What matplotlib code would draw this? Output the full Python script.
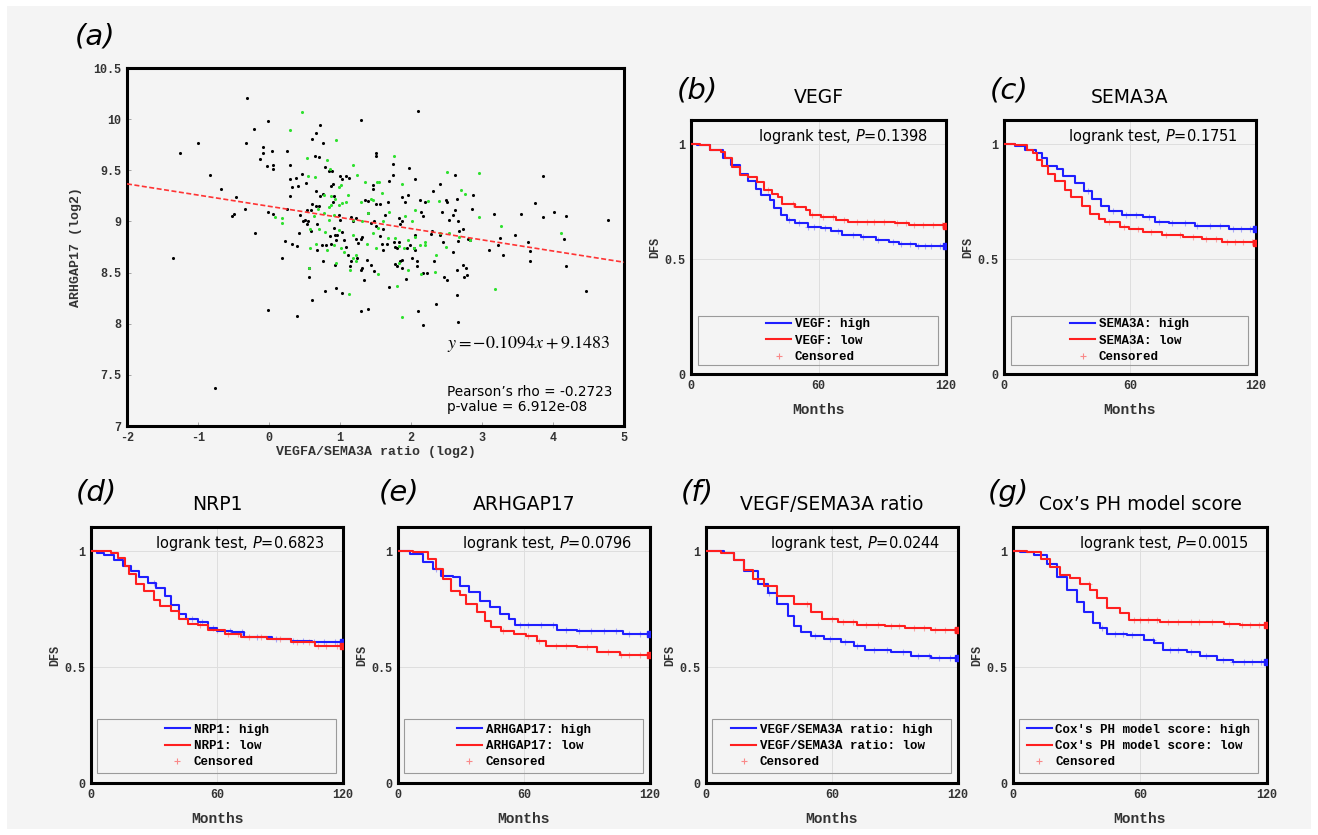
import numpy as np
import matplotlib.pyplot as plt
from matplotlib.patches import Rectangle
from matplotlib.lines import Line2D

# ---------------- panel (a): scatter data
black_x = [-0.31, -1.26, -1.0, -1.35, -0.83, -0.67, -0.76, -0.47, -0.52, -0.50, -0.34, -0.20, -0.21, -0.32,
           -0.01, -0.085, -0.085, -0.13, -0.03, 0.05, 0.05, 0.04, -0.02, 0.06, -0.01, 0.18, 0.23, 0.33, 0.40,
           0.26, 0.30, 0.29, 0.38, 0.33, 0.41, 0.40, 0.29, 0.26, 0.42, 0.44, 0.48, 0.50, 0.46, 0.52, 0.53, 0.59,
           0.55, 0.53, 0.56, 0.56, 0.61, 0.61, 0.66, 0.65, 0.70, 0.72, 0.76, 0.79, 0.85, 0.89, 0.60, 0.66, 0.71,
           0.66, 0.72, 0.76, 0.59, 0.68, 0.67, 0.75, 0.76, 0.80, 0.79, 0.86, 0.88, 0.92, 0.90, 0.91, 0.88, 0.90,
           0.93, 0.94, 0.96, 0.93, 0.94, 1.0, 1.03, 1.08, 1.13, 1.03, 0.98, 1.0, 1.03, 1.06, 1.08, 1.11, 1.14,
           1.16, 1.16, 1.19, 1.22, 1.23, 1.26, 1.29, 1.31, 1.30, 1.24, 1.30, 1.31, 1.30, 1.39, 1.34, 1.38, 1.43,
           1.48, 1.46, 1.46, 1.50, 1.50, 1.35, 1.39, 1.51, 1.56, 1.40, 1.43, 1.48, 1.51, 1.56, 1.59, 1.61, 1.64,
           1.67, 1.69, 1.75, 1.75, 1.61, 1.66, 1.69, 1.76, 1.78, 1.80, 1.83, 1.88, 1.92, 1.96, 1.97, 2.05, 1.83,
           1.85, 1.88, 1.78, 1.80, 1.85, 1.88, 1.88, 1.93, 1.95, 1.98, 2.04, 2.06, 2.05, 2.01, 2.08, 2.09, 2.17,
           2.23, 2.10, 2.10, 2.17, 2.14, 2.17, 2.20, 2.13, 2.30, 2.28, 2.35, 2.41, 2.31, 2.49, 2.51, 2.43, 2.45,
           2.41, 2.32, 2.46, 2.51, 2.54, 2.59, 2.62, 2.62, 2.65, 2.66, 2.67, 2.73, 2.65, 2.73, 2.78, 2.75, 2.79,
           2.65, 2.66, 2.59, 2.66, 2.87, 2.86, 2.80, 2.83, 3.10, 3.17, 3.23, 3.26, 3.30, 3.55, 3.46, 3.65, 3.67,
           3.67, 3.75, 3.86, 3.86, 4.01, 4.19, 4.16, 4.19, 4.47, 4.77]
black_y = [10.21, 9.67, 9.77, 8.64, 9.45, 9.32, 7.37, 9.24, 9.05, 9.07, 9.12, 8.89, 9.90, 9.77,
           9.98, 9.73, 9.67, 9.61, 9.54, 9.55, 9.51, 9.69, 9.09, 9.07, 8.13, 8.64, 8.81, 8.78, 8.76,
           9.69, 9.55, 9.41, 9.42, 9.34, 9.35, 8.08, 9.25, 9.12, 8.89, 9.06, 9.0, 9.01, 9.46, 9.38, 9.11, 9.11,
           9.0, 8.97, 8.54, 8.46, 8.23, 9.81, 9.86, 9.64, 9.63, 9.94, 9.77, 9.53, 9.49, 9.49, 9.17, 9.15, 9.15,
           9.30, 9.25, 9.27, 8.91, 8.97, 8.72, 8.77, 8.61, 8.77, 8.32, 8.86, 8.78, 8.94, 9.19, 9.25, 9.35, 9.37,
           8.87, 8.82, 8.87, 8.57, 8.35, 9.44, 9.41, 9.44, 9.42, 8.30, 9.06, 9.01, 8.90, 8.82, 8.75, 8.67, 8.56,
           8.61, 9.04, 9.0, 9.03, 8.83, 8.79, 8.83, 8.85, 9.99, 8.64, 8.53, 8.54, 8.12, 8.14, 8.43, 8.62, 8.57,
           8.52, 9.36, 9.32, 9.67, 9.64, 9.21, 9.20, 9.17, 9.17, 9.08, 8.98, 9.0, 8.96, 8.86, 8.78, 8.93, 9.06,
           9.19, 9.40, 9.45, 9.56, 8.72, 8.78, 8.36, 8.80, 8.75, 8.74, 8.80, 9.24, 9.19, 9.26, 9.52, 9.41, 9.03,
           8.97, 9.0, 8.58, 8.56, 8.61, 8.62, 8.54, 8.44, 8.74, 8.77, 8.74, 8.72, 8.87, 8.64, 8.61, 8.56, 8.50,
           8.50, 10.08, 8.12, 7.99, 9.09, 9.05, 9.19, 9.21, 8.91, 8.88, 8.19, 9.37, 9.30, 9.21, 9.19, 9.09, 8.80,
           8.87, 8.61, 8.46, 8.43, 9.01, 9.06, 9.11, 9.45, 9.22, 9.00, 8.91, 8.93, 8.53, 8.57, 8.54, 8.46, 8.48,
           8.28, 8.02, 8.70, 8.81, 9.26, 9.12, 8.83, 8.82, 8.72, 9.07, 8.77, 8.84, 8.67, 9.07, 8.87, 8.80, 8.71,
           8.61, 9.18, 9.04, 9.44, 9.09, 9.05, 8.83, 8.56, 8.32, 9.01]
green_x = [0.46, 0.30, 0.94, 0.53, 0.82, 1.19, 1.76, 0.86, 0.55, 0.65, 1.24, 1.35, 1.52, 1.55, 1.88, 0.98,
           1.01, 0.77, 0.87, 1.11, 1.59, 2.51, 2.96, 2.71, 2.76, 0.93, 0.98, 1.03, 1.08, 1.46, 1.43, 1.30, 0.87,
           0.85, 2.06, 2.24, 2.40, 0.69, 0.63, 0.77, 0.85, 0.92, 1.18, 1.31, 1.40, 1.61, 1.69, 1.92, 2.02, 2.96,
           0.09, 0.19, 0.18, 0.58, 0.71, 0.79, 0.98, 1.19, 1.46, 1.53, 1.68, 1.77, 1.96, 2.06, 2.20, 2.41, 2.54,
           2.67, 2.83, 3.27, 4.11, 0.58, 0.66, 0.82, 0.92, 1.01, 1.06, 1.19, 1.23, 1.38, 1.51, 1.83, 1.90, 2.04,
           2.12, 2.20, 2.35, 2.49, 0.56, 1.14, 1.22, 1.53, 1.83, 1.96, 2.14, 2.34, 0.94, 1.13, 1.80, 1.87, 3.18]
green_y = [10.07, 9.89, 9.80, 9.62, 9.60, 9.55, 9.64, 9.51, 9.44, 9.43, 9.45, 9.39, 9.39, 9.39, 9.37, 9.34,
           9.36, 9.26, 9.25, 9.26, 9.28, 9.48, 9.47, 9.31, 9.27, 9.22, 9.16, 9.18, 9.19, 9.21, 9.22, 9.19, 9.16,
           9.14, 9.11, 9.20, 9.20, 9.12, 9.05, 9.08, 9.01, 9.06, 9.01, 9.0, 9.08, 9.0, 9.09, 9.05, 9.0, 9.04,
           9.04, 9.03, 8.98, 8.93, 8.93, 8.90, 8.92, 8.87, 8.89, 8.94, 8.84, 8.84, 8.82, 8.85, 8.77, 8.89, 8.89,
           8.85, 8.82, 8.96, 8.89, 8.74, 8.78, 8.72, 8.77, 8.74, 8.70, 8.64, 8.67, 8.78, 8.74, 8.76, 8.74, 8.74,
           8.77, 8.80, 8.67, 8.75, 8.54, 8.53, 8.61, 8.49, 8.59, 8.53, 8.49, 8.51, 8.59, 8.29, 8.37, 8.07, 8.34]
fit_slope = -0.1094
fit_intercept = 9.1483
x_ticks_a = [-2, -1, 0, 1, 2, 3, 4, 5]
y_ticks_a = [7, 7.5, 8, 8.5, 9, 9.5, 10, 10.5]

# ---------------- KM curves (time in months, survival)
b_high_t = [0, 3, 9, 15, 19, 23, 27, 30.5, 33, 37, 39, 42.5, 45, 49, 55, 61, 66, 71, 80, 87, 93, 98, 105.7, 120]
b_high_s = [1, 0.995, 0.974, 0.94, 0.91, 0.87, 0.84, 0.806, 0.78, 0.755, 0.72, 0.69, 0.67, 0.655, 0.64, 0.635,
            0.62, 0.605, 0.598, 0.583, 0.576, 0.566, 0.559, 0.559]
b_low_t = [0, 4, 9, 14, 16, 19.5, 23, 27, 31, 34.5, 38, 41, 43, 49, 54, 56, 61, 68, 74, 96, 102.6, 120]
b_low_s = [1, 0.995, 0.974, 0.964, 0.94, 0.90, 0.864, 0.856, 0.835, 0.80, 0.785, 0.77, 0.74, 0.727, 0.713, 0.69,
           0.684, 0.67, 0.662, 0.655, 0.648, 0.645]
c_high_t = [0, 5, 10, 15, 18, 20.4, 25, 28, 34, 38, 42, 46, 50, 56, 66, 72, 78.6, 91, 107, 120]
c_high_s = [1, 0.99, 0.976, 0.96, 0.94, 0.904, 0.89, 0.86, 0.83, 0.797, 0.76, 0.73, 0.71, 0.69, 0.685, 0.66,
            0.656, 0.646, 0.632, 0.632]
c_low_t = [0, 5, 11, 14, 15.6, 18, 21, 24.4, 29, 32, 37, 41, 45, 48, 55, 59.5, 66, 75, 85, 94.5, 104, 120]
c_low_s = [1, 0.997, 0.976, 0.96, 0.933, 0.904, 0.868, 0.84, 0.80, 0.77, 0.73, 0.696, 0.675, 0.66, 0.64, 0.63,
           0.617, 0.606, 0.596, 0.586, 0.575, 0.572]
d_high_t = [0, 3, 6.4, 11, 15, 19, 23, 27, 31, 35, 38, 42, 45, 51, 55.6, 60, 67, 73, 86, 95, 105, 120]
d_high_s = [1, 0.993, 0.986, 0.964, 0.936, 0.914, 0.89, 0.864, 0.843, 0.807, 0.77, 0.73, 0.707, 0.693, 0.67,
            0.657, 0.65, 0.63, 0.62, 0.614, 0.607, 0.607]
d_low_t = [0, 9.5, 12.7, 16, 18, 21.5, 25.4, 30, 33, 38, 42, 46, 51, 55.6, 64, 71.5, 84, 95, 106.5, 120]
d_low_s = [1, 0.993, 0.97, 0.936, 0.90, 0.857, 0.83, 0.79, 0.764, 0.743, 0.707, 0.686, 0.68, 0.66, 0.643, 0.63,
           0.62, 0.607, 0.593, 0.59]
e_high_t = [0, 5.6, 12, 16.7, 20.7, 26, 29.4, 34, 39, 43.7, 48.5, 53, 55.6, 66, 75.5, 85, 107, 120]
e_high_s = [1, 0.989, 0.953, 0.924, 0.895, 0.888, 0.852, 0.823, 0.787, 0.759, 0.73, 0.708, 0.682, 0.68, 0.662,
            0.654, 0.644, 0.644]
e_low_t = [0, 7, 14.3, 18.3, 21.5, 25.4, 29.4, 32.6, 37.4, 41.3, 44.5, 49, 55, 61, 66, 70.7, 85, 94.6, 105.7, 120]
e_low_s = [1, 0.996, 0.967, 0.924, 0.88, 0.83, 0.81, 0.773, 0.737, 0.70, 0.672, 0.658, 0.644, 0.636, 0.615,
           0.593, 0.586, 0.567, 0.553, 0.553]
f_high_t = [0, 8.7, 13.5, 18.3, 24.6, 29.4, 34, 39, 42, 45, 50, 56, 64.4, 70.7, 75.5, 88, 97.5, 107, 120]
f_high_s = [1, 0.993, 0.964, 0.914, 0.857, 0.821, 0.771, 0.721, 0.679, 0.65, 0.636, 0.621, 0.61, 0.593, 0.576,
            0.567, 0.55, 0.539, 0.539]
f_low_t = [0, 7, 13.5, 18.3, 22.3, 27.8, 34, 42, 50, 55, 62.8, 72, 85, 94.6, 107, 120]
f_low_s = [1, 0.993, 0.964, 0.921, 0.879, 0.85, 0.807, 0.771, 0.736, 0.707, 0.693, 0.683, 0.679, 0.671, 0.66, 0.66]
g_high_t = [0, 3.5, 9.8, 16, 20.8, 25.5, 30, 33.4, 38, 41, 44.4, 54, 61.7, 66.5, 71, 82, 88.5, 96.4, 104, 120]
g_high_s = [1, 0.997, 0.983, 0.947, 0.89, 0.833, 0.783, 0.74, 0.69, 0.669, 0.644, 0.64, 0.619, 0.604, 0.576,
            0.564, 0.547, 0.53, 0.521, 0.521]
g_low_t = [0, 6.6, 13, 17.6, 22.4, 27, 31.8, 36.5, 39.7, 44.4, 50.7, 54.6, 69.6, 82, 99.5, 107.4, 120]
g_low_s = [1, 0.997, 0.969, 0.933, 0.897, 0.883, 0.861, 0.833, 0.797, 0.754, 0.733, 0.704, 0.697, 0.693, 0.687,
           0.68, 0.68]

# censoring times (months)
b_high_c = [46, 51, 55, 58, 63, 69, 76, 81, 88, 95, 99, 103, 107, 110, 113, 117]
b_low_c = [36, 48, 57, 62, 67, 72, 78, 83, 86, 91, 97, 101, 105, 109, 114, 118]
c_high_c = [40, 52, 58, 63, 69, 74, 80, 86, 92, 98, 103, 109, 113, 117]
c_low_c = [50, 57, 64, 70, 77, 84, 90, 96, 101, 106, 110, 114, 118]
d_high_c = [30, 48, 53, 58, 66, 72, 79, 88, 96, 101, 106, 111, 116]
d_low_c = [52, 60, 65, 70, 75, 81, 90, 98, 104, 108, 112, 117]
e_high_c = [18, 58, 62, 68, 74, 80, 86, 92, 98, 104, 110, 115]
e_low_c = [50, 62, 67, 75, 80, 90, 100, 106, 110, 115]
f_high_c = [30, 52, 59, 66, 72, 80, 86, 94, 101, 106, 111, 116]
f_low_c = [48, 60, 65, 70, 76, 82, 88, 92, 99, 104, 109, 114, 118]
g_high_c = [42, 48, 52, 56, 66, 74, 78, 84, 91, 99, 104, 109, 113, 117]
g_low_c = [36, 57, 60, 64, 68, 73, 78, 84, 88, 94, 102, 108, 112, 116]

titles = ["VEGF", "SEMA3A", "NRP1", "ARHGAP17", "VEGF/SEMA3A ratio", "Cox\u2019s PH model score"]
legend_names = ["VEGF", "SEMA3A", "NRP1", "ARHGAP17", "VEGF/SEMA3A ratio", "Cox's PH model score"]
p_values = ["0.1398", "0.1751", "0.6823", "0.0796", "0.0244", "0.0015"]
panel_tags = ["(b)", "(c)", "(d)", "(e)", "(f)", "(g)"]

BG = "#f4f4f4"
MONO = "Liberation Mono"
fig = plt.figure(figsize=(13.18, 8.35), dpi=100, facecolor="white")
fig.patches.append(Rectangle((0.005, 0.007), 0.99, 0.986, transform=fig.transFigure,
                             facecolor=BG, edgecolor="none", zorder=-10))


def style_frame(ax):
    ax.set_facecolor(BG)
    for sp in ax.spines.values():
        sp.set_linewidth(2.2)
        sp.set_color("black")
    ax.tick_params(direction="in", length=3, width=0.6, color="#999999", labelcolor="#333333",
                   labelsize=8.5, pad=4)
    for lab in ax.get_xticklabels() + ax.get_yticklabels():
        lab.set_family(MONO)
        lab.set_fontweight("bold")


# ---------------- panel (a)
ax = fig.add_axes([127 / 1318, 1 - 426 / 835, 497 / 1318, 358 / 835])
ax.scatter(black_x, black_y, s=5, color="black", linewidths=0, zorder=3)
ax.scatter(green_x, green_y, s=5, color="#2ee02e", linewidths=0, zorder=3)
xs = np.array([-2, 5])
ax.plot(xs, fit_slope * xs + fit_intercept, ls=(0, (3, 1.5)), color="#ff3333", lw=1.2, zorder=4)
ax.set_xlim(-2, 5)
ax.set_ylim(7, 10.5)
ax.set_xticks(x_ticks_a)
ax.set_yticks(y_ticks_a)
ax.set_xticklabels([f"{v:g}" for v in x_ticks_a])
ax.set_yticklabels([f"{v:g}" for v in y_ticks_a])
style_frame(ax)
ax.set_xlabel("VEGFA/SEMA3A ratio (log2)", family=MONO, fontweight="bold", fontsize=9.5,
              color="#333333", labelpad=2)
ax.set_ylabel("ARHGAP17 (log2)", family=MONO, fontweight="bold", fontsize=9.5, color="#333333", labelpad=8)
ax.text(0.972, 0.23, r"$y = -0.1094x + 9.1483$", transform=ax.transAxes, ha="right", va="center",
        fontsize=13, math_fontfamily="stix")
ax.text(0.644, 0.095, "Pearson\u2019s rho = -0.2723", transform=ax.transAxes, ha="left", va="center",
        fontsize=9.8)
ax.text(0.644, 0.053, "p-value = 6.912e-08", transform=ax.transAxes, ha="left", va="center",
        fontsize=9.8)
fig.text(95 / 1318, 1 - 36 / 835, "(a)", fontsize=21, style="italic", ha="center", va="center")

# ---------------- KM panels
km_sets = [
    (b_high_t, b_high_s, b_high_c, b_low_t, b_low_s, b_low_c),
    (c_high_t, c_high_s, c_high_c, c_low_t, c_low_s, c_low_c),
    (d_high_t, d_high_s, d_high_c, d_low_t, d_low_s, d_low_c),
    (e_high_t, e_high_s, e_high_c, e_low_t, e_low_s, e_low_c),
    (f_high_t, f_high_s, f_high_c, f_low_t, f_low_s, f_low_c),
    (g_high_t, g_high_s, g_high_c, g_low_t, g_low_s, g_low_c),
]
# axes boxes in pixels: left, right, top, bottom
boxes = [(691, 946, 120, 374), (1004, 1256, 120, 374),
         (91, 343, 527, 783), (398, 650, 527, 783), (706, 958, 527, 783), (1013, 1267, 527, 783)]
leg_boxes = [(0.027, 0.035, 0.942, 0.193), (0.027, 0.035, 0.942, 0.193),
             (0.024, 0.04, 0.95, 0.21), (0.024, 0.04, 0.95, 0.21), (0.024, 0.04, 0.95, 0.21),
             (0.024, 0.04, 0.94, 0.21)]
# panel letter positions (left edge, vertical centre) in pixels
tag_pos = [(677, 90), (990, 90), (76, 493), (379, 493), (681, 493), (988, 493)]


def draw_km(ax, t, s, cens, color):
    t = np.asarray(t)
    s = np.asarray(s)
    ax.step(t, s, where="post", color=color, lw=1.5, zorder=3)
    idx = np.searchsorted(t, cens, side="right") - 1
    ax.plot(cens, s[idx], ls="", marker="+", ms=4.5, mew=0.8, color=color, alpha=0.35, zorder=2)
    ax.plot(t[-1], s[-1], ls="", marker="s", ms=4, color=color, zorder=4)


for i, (ht, hs, hc, lt, ls_, lc) in enumerate(km_sets):
    left, right, top, bottom = boxes[i]
    ax = fig.add_axes([left / 1318, 1 - bottom / 835, (right - left) / 1318, (bottom - top) / 835])
    ax.grid(True, color="#dedede", lw=0.7)
    ax.set_axisbelow(True)
    draw_km(ax, ht, hs, hc, "#1f1fff")
    draw_km(ax, lt, ls_, lc, "#ff1f1f")
    ax.set_xlim(0, 120)
    ax.set_ylim(0, 1.105)
    ax.set_xticks([0, 60, 120])
    ax.set_yticks([0, 0.5, 1])
    ax.set_yticklabels(["0", "0.5", "1"])
    style_frame(ax)
    ax.tick_params(length=0)
    ax.set_xlabel("Months", family=MONO, fontweight="bold", fontsize=10.5, color="#333333", labelpad=8)
    ax.set_ylabel("DFS", family=MONO, fontweight="bold", fontsize=8.5, color="#333333", labelpad=2)
    ax.set_title(titles[i], fontsize=13.5, pad=12)
    ax.text(111.5, 1.035, "logrank test, $\\mathit{P}$=" + p_values[i], ha="right", va="center",
            fontsize=10.5, math_fontfamily="dejavusans")
    lx, ly, lw_, lh = leg_boxes[i]
    ax.add_patch(Rectangle((lx, ly), lw_, lh, transform=ax.transAxes, facecolor="none",
                           edgecolor="#9a9a9a", lw=0.8, zorder=5))
    handles = [Line2D([], [], color="#1f1fff", lw=1.5),
               Line2D([], [], color="#ff1f1f", lw=1.5),
               Line2D([], [], ls="", marker="+", ms=4.5, mew=0.8, color="#ff1f1f", alpha=0.5)]
    labels = [legend_names[i] + ": high", legend_names[i] + ": low", "Censored"]
    ax.legend(handles, labels, loc="center", bbox_to_anchor=(lx, ly, lw_, lh), frameon=False,
              prop={"family": MONO, "weight": "bold", "size": 9}, handlelength=2.0,
              handletextpad=0.3, labelspacing=0.35, borderpad=0.2)
    tx, ty = tag_pos[i]
    fig.text(tx / 1318, 1 - ty / 835, panel_tags[i], fontsize=21, style="italic",
             ha="left", va="center")

fig.savefig("out.png", dpi=100, facecolor="white")
